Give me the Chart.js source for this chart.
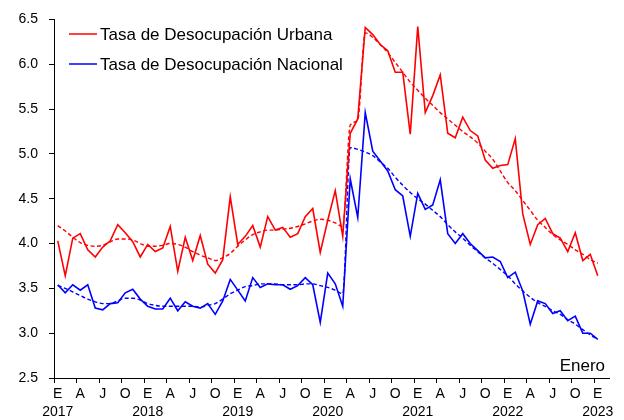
<!DOCTYPE html>
<html>
<head>
<meta charset="utf-8">
<script src="https://cdn.jsdelivr.net/npm/chart.js@4.4.0/dist/chart.umd.min.js"></script>
<style>
  html, body { margin: 0; padding: 0; background: #fff; }
  #wrap { width: 624px; height: 420px; position: relative; }
</style>
</head>
<body>
<div id="wrap"><canvas id="desocupacionChart"></canvas></div>
<script>
// monthly, Jan 2017 .. Jan 2023
const startYear = 2017;
const monthCount = 73;
const years = ['2017', '2018', '2019', '2020', '2021', '2022', '2023'];
const quarterLabels = ['E', 'A', 'J', 'O'];

const urbana = [
    4.03, 3.64, 4.06, 4.11, 3.93, 3.85, 3.96, 4.03, 4.21, 4.12, 4.02, 3.85,
    3.99, 3.91, 3.95, 4.19, 3.69, 4.07, 3.81, 4.09, 3.77, 3.67, 3.82, 4.52,
    3.99, 4.08, 4.20, 3.96, 4.30, 4.15, 4.18, 4.07, 4.11, 4.30, 4.39, 3.90,
    4.26, 4.59, 4.08, 5.23, 5.39, 6.41, 6.33, 6.22, 6.15, 5.91, 5.91, 5.22,
    6.42, 5.46, 5.65, 5.88, 5.23, 5.18, 5.41, 5.26, 5.20, 4.93, 4.84, 4.87,
    4.88, 5.17, 4.33, 3.99, 4.21, 4.28, 4.11, 4.06, 3.91, 4.12, 3.81, 3.88,
    3.64
];
const nacional = [
    3.54, 3.45, 3.54, 3.48, 3.54, 3.28, 3.26, 3.33, 3.34, 3.45, 3.49, 3.38,
    3.30, 3.27, 3.27, 3.39, 3.25, 3.35, 3.30, 3.28, 3.33, 3.21, 3.36, 3.60,
    3.48, 3.36, 3.62, 3.51, 3.55, 3.54, 3.54, 3.49, 3.53, 3.62, 3.54, 3.12,
    3.67, 3.55, 3.30, 4.72, 4.29, 5.46, 5.03, 4.92, 4.81, 4.60, 4.53, 4.08,
    4.56, 4.38, 4.43, 4.71, 4.11, 4.00, 4.11, 4.00, 3.92, 3.84, 3.85, 3.80,
    3.62, 3.68, 3.47, 3.10, 3.36, 3.33, 3.22, 3.25, 3.14, 3.19, 3.00, 3.00,
    2.93
];
// tendencias (lineas punteadas)
const urbanaTend = [
    4.20, 4.14, 4.07, 4.01, 3.98, 3.97, 3.98, 4.02, 4.05, 4.05, 4.04, 4.00,
    3.97, 3.97, 3.98, 4.00, 3.99, 3.96, 3.91, 3.87, 3.84, 3.81, 3.84, 3.89,
    3.97, 4.04, 4.10, 4.13, 4.15, 4.15, 4.16, 4.17, 4.19, 4.22, 4.25, 4.27,
    4.26, 4.23, 4.19, 5.32, 5.38, 6.35, 6.30, 6.22, 6.13, 6.02, 5.91, 5.80,
    5.71, 5.62, 5.54, 5.46, 5.39, 5.32, 5.25, 5.19, 5.12, 5.03, 4.94, 4.81,
    4.68, 4.59, 4.48, 4.37, 4.26, 4.18, 4.10, 4.04, 3.99, 3.93, 3.88, 3.82,
    3.78
];
const nacionalTend = [
    3.53, 3.50, 3.46, 3.42, 3.38, 3.35, 3.33, 3.33, 3.36, 3.39, 3.39, 3.37,
    3.33, 3.31, 3.30, 3.30, 3.30, 3.30, 3.30, 3.29, 3.31, 3.33, 3.38, 3.44,
    3.48, 3.52, 3.53, 3.55, 3.55, 3.55, 3.54, 3.54, 3.54, 3.55, 3.55, 3.53,
    3.51, 3.48, 3.44, 5.07, 5.05, 5.02, 4.98, 4.91, 4.84, 4.74, 4.65, 4.57,
    4.50, 4.44, 4.37, 4.30, 4.21, 4.13, 4.06, 3.98, 3.91, 3.84, 3.78, 3.71,
    3.64, 3.55, 3.47, 3.40, 3.34, 3.30, 3.25, 3.21, 3.15, 3.10, 3.04, 2.98,
    2.93
];

// one extra empty slot at the end, the axis runs a bit past Jan 2023
const categories = [];
for (let i = 0; i <= monthCount; i++) {
    const y = startYear + Math.floor(i / 12);
    const m = (i % 12) + 1;
    categories.push(i < monthCount ? y + '-' + String(m).padStart(2, '0') : '');
}

const FONT = "'Liberation Sans', Arial, sans-serif";

const overlayText = {
    id: 'overlayText',
    afterDraw(chart) {
        const ctx = chart.ctx;
        const area = chart.chartArea;
        ctx.save();
        // leyenda dentro del area
        const items = chart.data.datasets.filter(d => !d.borderDash);
        items.forEach((d, i) => {
            const y = 34 + i * 30;
            ctx.strokeStyle = d.borderColor;
            ctx.lineWidth = 1.5;
            ctx.beginPath();
            ctx.moveTo(area.left + 15, y);
            ctx.lineTo(area.left + 43, y);
            ctx.stroke();
            ctx.fillStyle = '#000';
            ctx.font = '17px ' + FONT;
            ctx.textAlign = 'left';
            ctx.textBaseline = 'middle';
            ctx.fillText(d.label, area.left + 46, y + 1);
        });
        ctx.font = '17px ' + FONT;
        ctx.textAlign = 'right';
        ctx.textBaseline = 'alphabetic';
        ctx.fillText('Enero', area.right - 4, area.bottom - 7);
        ctx.restore();
    }
};

const ctx = document.getElementById('desocupacionChart').getContext('2d');
new Chart(ctx, {
    type: 'line',
    data: {
        labels: categories,
        datasets: [
            { label: 'Tasa de Desocupación Urbana', data: urbana, borderColor: '#ff0000', borderWidth: 1.6, tension: 0 },
            { label: 'Tasa de Desocupación Nacional', data: nacional, borderColor: '#0000ff', borderWidth: 1.6, tension: 0 },
            { label: 'Tendencia Urbana', data: urbanaTend, borderColor: '#ff0000', borderWidth: 1.4, borderDash: [4, 2.5], cubicInterpolationMode: 'monotone' },
            { label: 'Tendencia Nacional', data: nacionalTend, borderColor: '#0000ff', borderWidth: 1.4, borderDash: [4, 2.5], cubicInterpolationMode: 'monotone' }
        ]
    },
    options: {
        responsive: true,
        maintainAspectRatio: false,
        animation: false,
        layout: { padding: { left: 0, right: 15, top: 15, bottom: 0 } },
        elements: { point: { radius: 0, hoverRadius: 0 }, line: { fill: false } },
        plugins: {
            legend: { display: false },
            tooltip: { enabled: false }
        },
        scales: {
            x: {
                type: 'category',
                offset: true,
                grid: {
                    offset: true,
                    drawOnChartArea: false,
                    drawTicks: true,
                    tickLength: 5,
                    tickColor: c => (c.index % 3 === 0 && c.index <= monthCount) ? '#000' : 'rgba(0,0,0,0)'
                },
                border: { display: true, color: '#000', width: 1 },
                ticks: {
                    autoSkip: false,
                    maxRotation: 0,
                    minRotation: 0,
                    padding: 2,
                    color: '#000',
                    font: { family: FONT, size: 14, lineHeight: 1.3 },
                    callback: (val, idx) => {
                        if (idx % 3 !== 0 || idx >= monthCount) return '';
                        const letter = quarterLabels[(idx / 3) % 4];
                        return idx % 12 === 0 ? [letter, years[idx / 12]] : letter;
                    }
                },
                afterFit: s => { s.height = 42; }
            },
            y: {
                min: 2.5,
                max: 6.5,
                grid: { drawOnChartArea: false, drawTicks: true, tickLength: 5, tickColor: '#000' },
                border: { display: true, color: '#000', width: 1 },
                ticks: {
                    stepSize: 0.5,
                    padding: 11,
                    color: '#000',
                    font: { family: FONT, size: 14 },
                    callback: v => v.toFixed(1)
                },
                afterFit: s => { s.width = 54; }
            }
        }
    },
    plugins: [overlayText]
});
</script>
</body>
</html>
